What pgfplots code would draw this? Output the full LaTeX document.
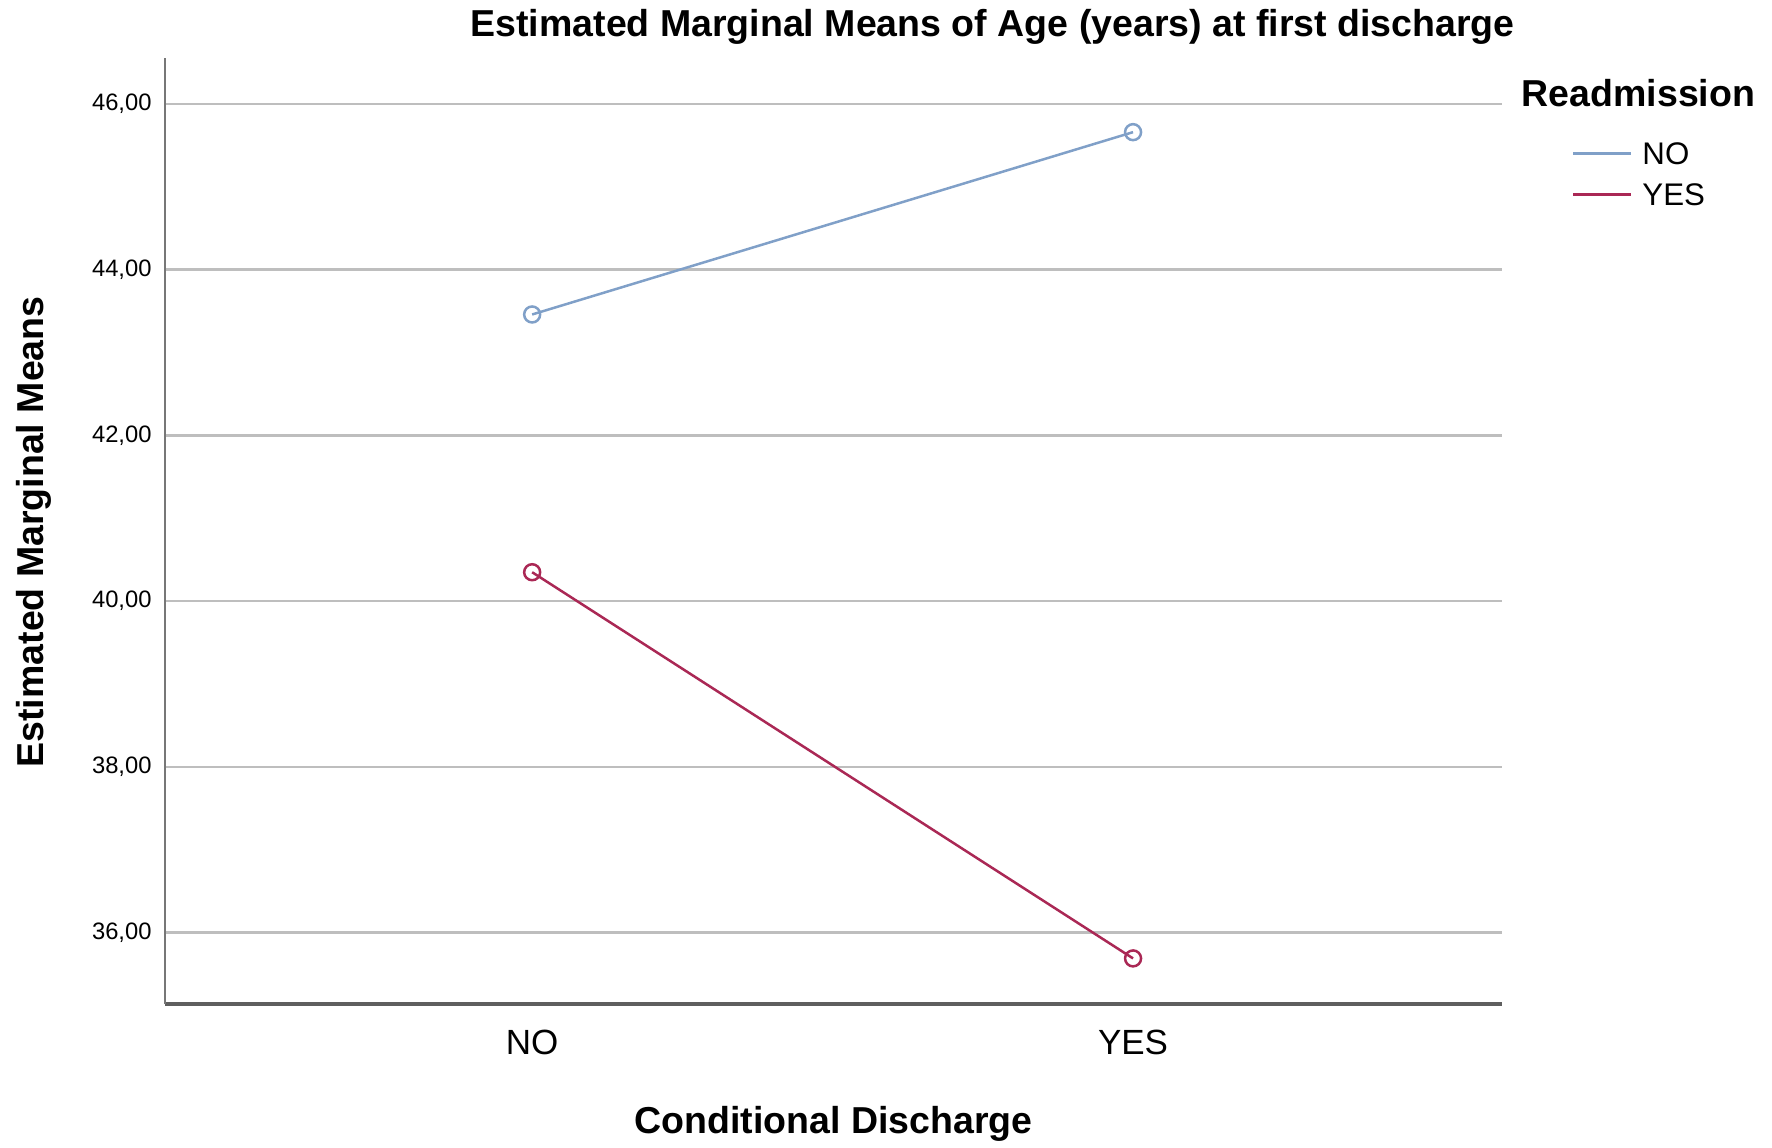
\documentclass[border=0pt]{standalone}
\usepackage{fontspec}
\setmainfont{Liberation Sans}
\usepackage{pgfplots}
\pgfplotsset{compat=1.18}
\definecolor{noblue}{RGB}{128,160,200}
\definecolor{yesred}{RGB}{170,40,85}
\definecolor{gridgray}{RGB}{190,190,190}
\definecolor{axisgray}{RGB}{95,95,95}
\begin{document}
\begin{tikzpicture}
\begin{axis}[
  at={(0pt,0pt)}, anchor=south west,
  scale only axis, width=534.8pt, height=378.4pt,
  xmin=-0.611, xmax=1.614, ymin=35.14, ymax=46.555,
  axis x line*=bottom, axis y line*=left,
  separate axis lines,
  x axis line style={axisgray, line width=1.6pt, -},
  y axis line style={axisgray!85, line width=0.8pt, -},
  xtick={0,1}, xticklabels={NO,YES},
  ytick={36,38,40,42,44,46},
  ymajorgrids, major grid style={gridgray, line width=1pt},
  major tick length=0pt,
  /pgf/number format/.cd, fixed, fixed zerofill, precision=2, use comma, assume math mode=true,
  /pgfplots/.cd,
  yticklabel style={anchor=east, inner sep=0pt, xshift=-5.2pt, font=\fontsize{9.5}{11}\selectfont},
  xticklabel style={anchor=north, inner sep=0pt, yshift=-10.4pt, font=\fontsize{14}{16}\selectfont},
  xlabel={Conditional Discharge},
  xlabel style={at={(rel axis cs:0.5,-0.108)}, anchor=north, inner sep=0pt, font=\bfseries\fontsize{15}{18}\selectfont},
  ylabel={Estimated Marginal Means},
  ylabel style={at={(rel axis cs:-0.098,0.499)}, anchor=center, inner sep=0pt, font=\bfseries\fontsize{15}{18}\selectfont},
  legend style={at={(rel axis cs:1.0523,0.911)}, anchor=north west, draw=none, fill=none,
    inner sep=0pt, outer sep=0pt, font=\fontsize{12.5}{14}\selectfont, row sep=7.4pt,
    nodes={inner sep=0pt, text height=9pt, text depth=0pt},
    /tikz/every odd column/.append style={column sep=4pt}},
  legend cell align=left,
  legend image code/.code={\draw[#1,mark=none] (0pt,0pt) -- (23.2pt,0pt);},
  clip=false,
]
\addplot[noblue, line width=1pt, mark=o, mark size=3.2pt, mark options={line width=1pt}]
  coordinates {(0,43.46) (1,45.66)};
\addlegendentry{NO}
\addplot[yesred, line width=1pt, mark=o, mark size=3.2pt, mark options={line width=1pt}]
  coordinates {(0,40.35) (1,35.69)};
\addlegendentry{YES}
\node[font=\bfseries\fontsize{15}{18}\selectfont, anchor=center] at (rel axis cs:0.619,1.033)
  {Estimated Marginal Means of Age (years) at first discharge};
\node[font=\bfseries\fontsize{15}{18}\selectfont, anchor=center] at (rel axis cs:1.102,0.963)
  {Readmission};
\end{axis}
\pgfresetboundingbox
\useasboundingbox (-66pt,-57.6pt) rectangle (642.8pt,401.6pt);
\end{tikzpicture}
\end{document}
